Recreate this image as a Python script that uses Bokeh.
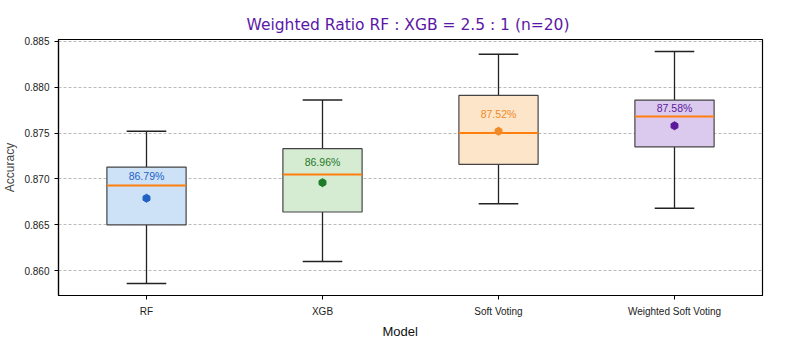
from bokeh.plotting import figure
from bokeh.models import FixedTicker, PrintfTickFormatter, Title, ColumnDataSource
from bokeh.transform import dodge
from bokeh.core.properties import value
from bokeh.embed import file_html
from bokeh.resources import INLINE
import math

# ---- data ----
models = ["RF", "XGB", "Soft Voting", "Weighted Soft Voting"]
whisker_low = [0.8586, 0.8610, 0.8673, 0.8668]
q1 = [0.8650, 0.8664, 0.8716, 0.8735]
medians = [0.8693, 0.8705, 0.8750, 0.8768]
q3 = [0.8713, 0.8733, 0.8791, 0.8786]
whisker_high = [0.8752, 0.8786, 0.8836, 0.8839]
means = [0.8679, 0.8696, 0.8752, 0.8758]
y_ticks = [0.860, 0.865, 0.870, 0.875, 0.880, 0.885]

fill_colors = ["#cde1f7", "#d5ebd2", "#fde5c9", "#dccaee"]
text_colors = ["#1f62c4", "#1e7a26", "#f08a26", "#5b1a99"]

src = ColumnDataSource(dict(
    x=models, lo=whisker_low, q1=q1, med=medians, q3=q3, hi=whisker_high,
    mean=means, fill=fill_colors, tcol=text_colors,
    lab_y=[(a + b) / 2 for a, b in zip(q3, medians)],
    lab=["%.2f%%" % (m * 100) for m in means],
))

p = figure(x_range=models, y_range=(0.8573, 0.8852), width=800, height=345,
           output_backend="svg", toolbar_location=None,
           min_border_left=58, min_border_right=38, min_border_top=39, min_border_bottom=50)
p.x_range.range_padding = 0

# whiskers
p.segment(x0="x", y0="q3", x1="x", y1="hi", source=src, line_color="#222222", line_width=1.3)
p.segment(x0="x", y0="q1", x1="x", y1="lo", source=src, line_color="#222222", line_width=1.3)
p.segment(x0=dodge("x", -0.1125, range=p.x_range), y0="hi",
          x1=dodge("x", 0.1125, range=p.x_range), y1="hi", source=src,
          line_color="#222222", line_width=1.5)
p.segment(x0=dodge("x", -0.1125, range=p.x_range), y0="lo",
          x1=dodge("x", 0.1125, range=p.x_range), y1="lo", source=src,
          line_color="#222222", line_width=1.5)
# boxes
p.vbar(x="x", width=0.45, bottom="q1", top="q3", source=src, fill_color="fill",
       line_color="#444444", line_width=1.2)
# medians
p.segment(x0=dodge("x", -0.225, range=p.x_range), y0="med",
          x1=dodge("x", 0.225, range=p.x_range), y1="med", source=src,
          line_color="#ff7f0e", line_width=2)
# means
p.scatter(x="x", y="mean", source=src, marker="hex", size=8, angle=math.pi / 2,
          fill_color="tcol", line_color="tcol")
# mean labels
p.text(x="x", y="lab_y", text="lab", source=src, text_color="tcol",
       text_font=value("Liberation Sans"), text_font_size="10.5px",
       text_align="center", text_baseline="middle")

# axes styling
p.yaxis.ticker = FixedTicker(ticks=y_ticks)
p.yaxis.formatter = PrintfTickFormatter(format="%.3f")
for ax in (p.xaxis[0], p.yaxis[0]):
    ax.major_label_text_font = "Liberation Sans"
    ax.major_label_text_font_size = "10px"
    ax.major_label_text_color = "#222222"
    ax.axis_line_color = "black"
    ax.axis_line_width = 1.2
    ax.major_tick_line_color = "black"
    ax.major_tick_out = 4
    ax.major_tick_in = 0
    ax.minor_tick_line_color = None
p.xaxis.major_label_standoff = 6
p.yaxis.axis_label = "Accuracy"
p.yaxis.axis_label_text_font = "Liberation Sans"
p.yaxis.axis_label_text_font_style = "normal"
p.yaxis.axis_label_text_font_size = "12px"
p.yaxis.axis_label_standoff = 4

p.xgrid.grid_line_color = None
p.ygrid.grid_line_color = "#aaaaaa"
p.ygrid.grid_line_dash = "3 2"
p.ygrid.grid_line_width = 0.8
p.outline_line_color = "black"
p.outline_line_width = 1.2

# title
p.title.text = "Weighted Ratio RF : XGB = 2.5 : 1 (n=20)"
p.title.text_font = "DejaVu Sans"
p.title.text_font_size = "15.5px"
p.title.text_font_style = "normal"
p.title.text_color = "#5b17a6"
p.title.align = "left"
p.title.offset = 188
p.title.standoff = 11

# x axis label as a bottom title so it can be positioned like the reference
p.add_layout(Title(text="Model", align="left", offset=324, text_font="Liberation Sans",
                   text_font_size="13px", text_font_style="normal", text_color="#111111",
                   standoff=5), "below")

open("out.html", "w").write(file_html(p, INLINE))
